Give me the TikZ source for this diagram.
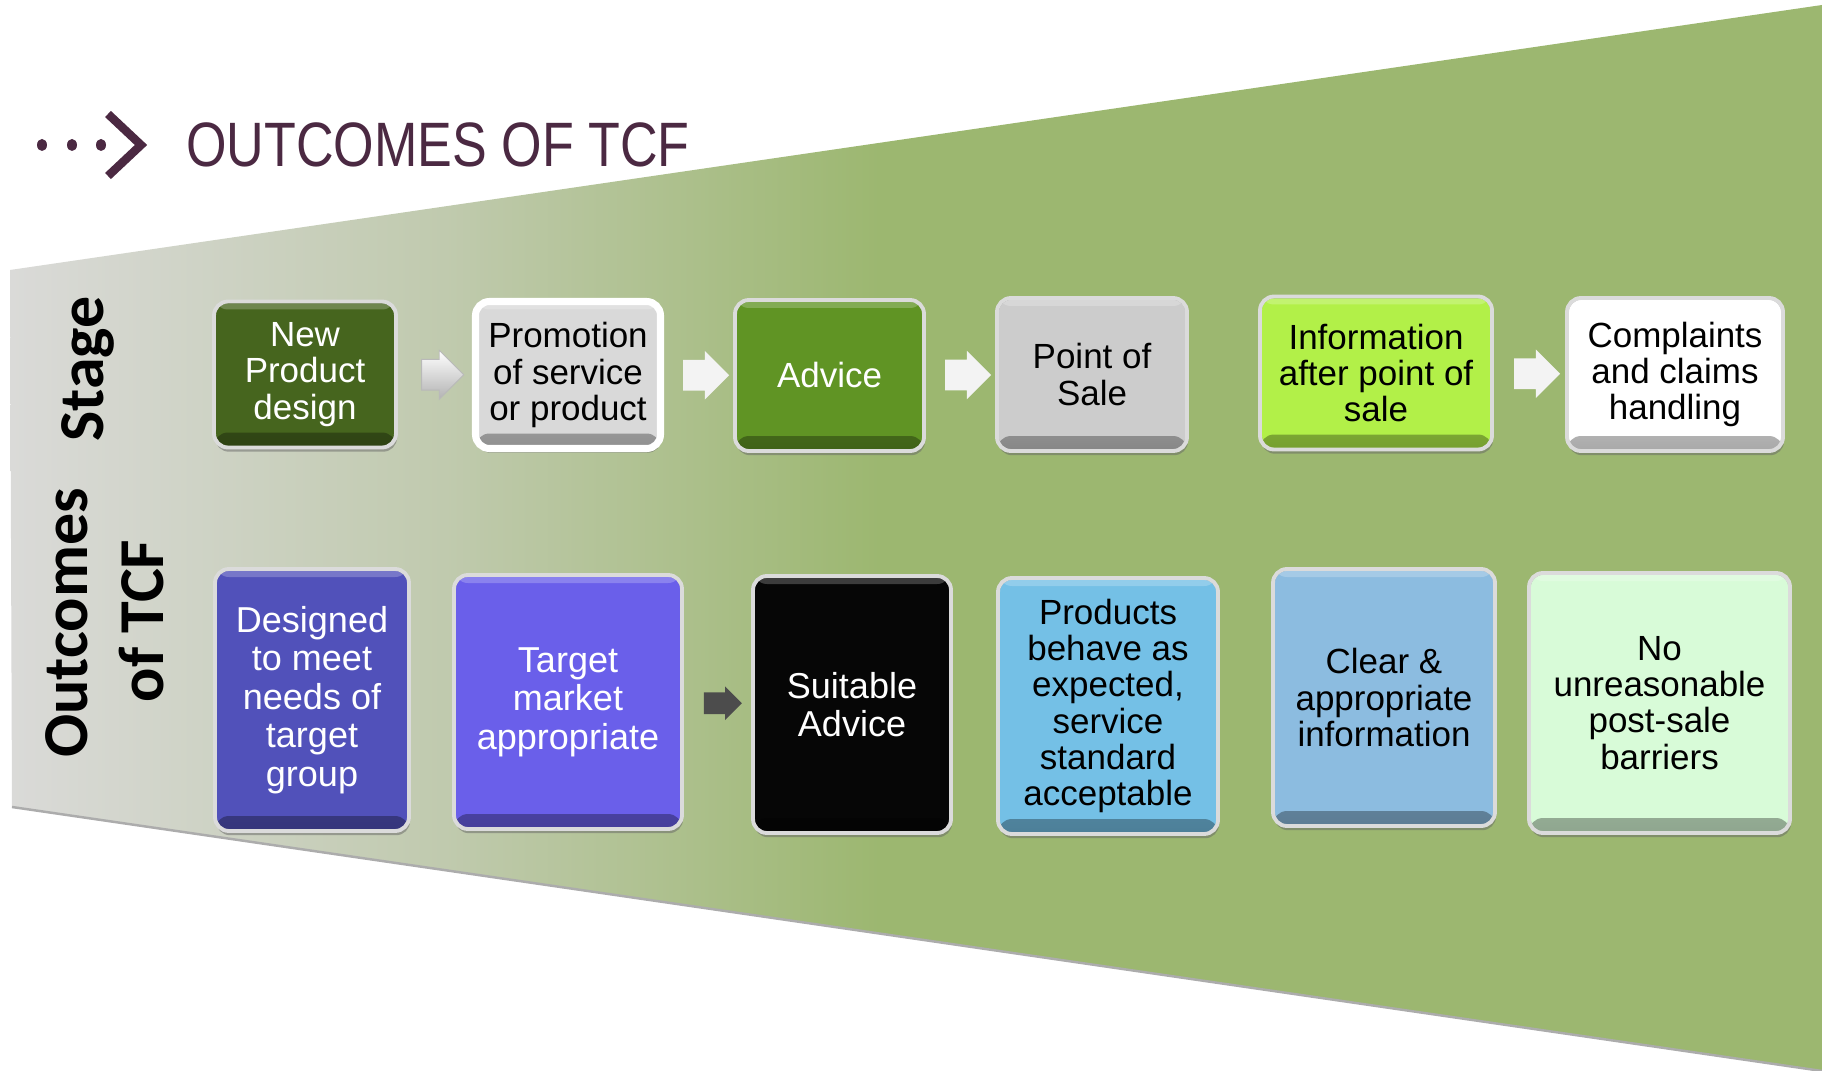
\documentclass[tikz,border=0pt]{standalone}
\usepackage{fontspec}
\setmainfont{Liberation Sans}
\newfontfamily\lblfont{Carlito}
\usetikzlibrary{shapes.arrows,shadows,calc}

\definecolor{bggray}{RGB}{218,218,216}
\definecolor{bgmid}{RGB}{192,202,174}
\definecolor{bggreen}{RGB}{156,183,112}
\definecolor{titlepurple}{RGB}{75,41,66}
\definecolor{cnpd}{RGB}{70,101,30}
\definecolor{cpromo}{RGB}{217,217,217}
\definecolor{cadvice}{RGB}{96,148,36}
\definecolor{cpos}{RGB}{204,204,204}
\definecolor{cinfo}{RGB}{178,240,72}
\definecolor{ccompl}{RGB}{255,255,255}
\definecolor{cdesigned}{RGB}{81,81,186}
\definecolor{ctarget}{RGB}{106,95,234}
\definecolor{csuit}{RGB}{6,6,6}
\definecolor{cprod}{RGB}{116,192,230}
\definecolor{cclear}{RGB}{140,188,224}
\definecolor{cnobar}{RGB}{216,251,216}
\definecolor{arrwhite}{RGB}{243,243,243}

\pgfdeclarehorizontalshading{bgshade}{100bp}{color(0bp)=(bggray); color(25bp)=(bggray); color(37bp)=(bgmid); color(49bp)=(bggreen); color(100bp)=(bggreen)}

\newcommand\tcfsmall{\fontsize{19.9pt}{20.6pt}\selectfont}
\newcommand\tcfbig{\fontsize{20.5pt}{21.9pt}\selectfont}

\begin{document}
\begin{tikzpicture}[x=0.02cm,y=-0.02cm,
  tcfbox/.style n args={4}{
    rectangle, rounded corners=0.28cm,
    minimum width=#1*0.02cm, minimum height=#2*0.02cm,
    fill=#3, text=#4, align=center, inner sep=2pt,
    draw=white!86!black, line width=2.2pt,
    drop shadow={shadow xshift=0.6pt, shadow yshift=-2.4pt, opacity=0.5, fill=black!60},
    path picture={
      \shade[top color=#3, bottom color=#3!66!black]
        ([yshift=0.3cm]path picture bounding box.south west) rectangle (path picture bounding box.south east);
      \fill[white, opacity=0.22]
        ([yshift=-0.16cm]path picture bounding box.north west) rectangle (path picture bounding box.north east);
      \draw[#3!70!black, line width=2pt, rounded corners=0.28cm]
        (path picture bounding box.south west) rectangle (path picture bounding box.north east);
    }
  },
  whiteframe/.style={draw=white, line width=4pt},
  toparrow/.style={single arrow, minimum height=0.92cm, inner xsep=0pt, inner ysep=0.3cm,
    single arrow head extend=0.18cm, fill=arrwhite, draw=none},
  botarrow/.style={single arrow, minimum height=0.76cm, inner xsep=0pt, inner ysep=0.21cm,
    single arrow head extend=0.12cm, fill=black!70, draw=none},
  sidelabel/.style={rotate=90, anchor=base, inner sep=0pt,
    font=\lblfont\bfseries\fontsize{36.4pt}{44pt}\selectfont}
]
\useasboundingbox (0,0) rectangle (1822,1071);
\fill[white] (0,0) rectangle (1822,1071);

% background wedge
\shade[shading=bgshade] (10,270) -- (1822,5) -- (1822,1071) -- (12,807) -- cycle;
\draw[gray!65, line width=1.4pt] (12,807) -- (1822,1071);

% title
\fill[titlepurple] (42,145) circle[x radius=0.1cm, y radius=0.12cm];
\fill[titlepurple] (72,145) circle[x radius=0.1cm, y radius=0.12cm];
\fill[titlepurple] (101,145) circle[x radius=0.1cm, y radius=0.12cm];
\draw[titlepurple, line width=4.8pt, line join=miter] (108,114) -- (141,145) -- (108,176);
\node[anchor=base west, inner sep=0pt, text=titlepurple,
  font=\fontsize{35.7pt}{40pt}\selectfont] (title) at (186,167)
  {\scalebox{0.83}[1]{OUTCOMES OF TCF}};

% side labels
\node[sidelabel] (stage) at (103,369) {Stage};
\node[sidelabel] (outc) at (87,623) {Outcomes};
\node[sidelabel] (oftcf) at (163,621) {of TCF};

% stage row
\node[tcfbox={182}{146}{cnpd}{white}, font=\tcfsmall] (A1) at (305,374.5) {New\\Product\\design};
\node[tcfbox={185}{147}{cpromo}{black}, whiteframe, font=\tcfsmall] (A2) at (568,375) {Promotion\\of service\\or product};
\node[tcfbox={189}{151}{cadvice}{white}, font=\tcfsmall] (A3) at (829.5,375.5) {Advice};
\node[tcfbox={190}{153}{cpos}{black}, font=\tcfsmall] (A4) at (1092,374.5) {Point of\\Sale};
\node[tcfbox={232}{153}{cinfo}{black}, font=\tcfsmall] (A5) at (1376,373) {Information\\after point of\\sale};
\node[tcfbox={216}{153}{ccompl}{black}, font=\tcfsmall] (A6) at (1675,374.5) {Complaints\\and claims\\handling};

% outcomes row
\node[tcfbox={194}{262}{cdesigned}{white}, font=\tcfbig] (B1) at (312,700) {Designed\\to meet\\needs of\\target\\group};
\node[tcfbox={228}{254}{ctarget}{white}, font=\tcfbig] (B2) at (568,702) {Target\\market\\appropriate};
\node[tcfbox={198}{257}{csuit}{white}, font=\tcfbig] (B3) at (852,704.5) {Suitable\\Advice};
\node[tcfbox={220}{256}{cprod}{black}, font=\tcfsmall] (B4) at (1108,706) {Products\\behave as\\expected,\\service\\standard\\acceptable};
\node[tcfbox={222}{257}{cclear}{black}, font=\tcfsmall] (B5) at (1384,697.5) {Clear \&\\appropriate\\information};
\node[tcfbox={261}{260}{cnobar}{black}, font=\tcfsmall] (B6) at (1659.5,703) {No\\unreasonable\\post-sale\\barriers};

% arrows
\node[toparrow, fill=none, top color=white, bottom color=gray!60, draw=gray!55, line width=0.5pt,
  minimum height=0.84cm] (ar12) at ($(A1.east)!0.5!(A2.west)$) {};
\node[toparrow] (ar23) at ($(A2.east)!0.5!(A3.west)$) {};
\node[toparrow] (ar34) at ($(A3.east)!0.5!(A4.west)$) {};
\node[toparrow] (ar56) at ($(A5.east)!0.5!(A6.west)$) {};
\node[botarrow] (br23) at ($(B2.east)!0.5!(B3.west)$) {};
\end{tikzpicture}
\end{document}
